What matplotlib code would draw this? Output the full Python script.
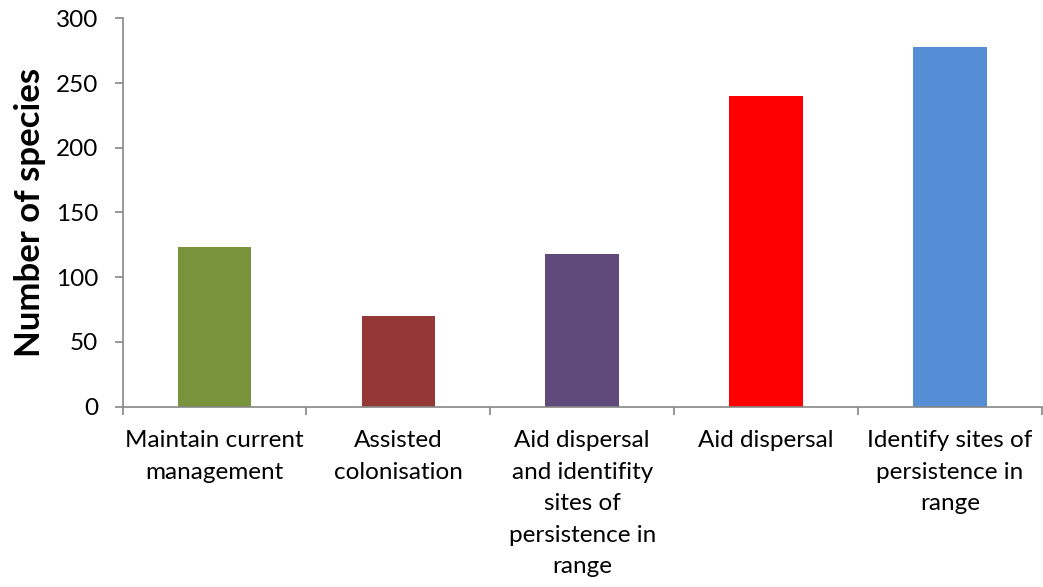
import matplotlib.pyplot as plt
import numpy as np

# Number of species per recommended conservation action
categories = ["Maintain current\nmanagement", "Assisted\ncolonisation",
              "Aid dispersal\nand identifity\nsites of\npersistence in\nrange",
              "Aid dispersal", "Identify sites of\npersistence in\nrange"]
species = [123, 70, 118, 240, 278]
bar_colors = ["#77933C", "#953735", "#604A7B", "#FF0000", "#558ED5"]
y_ticks = [0, 50, 100, 150, 200, 250, 300]

plt.rcParams['font.family'] = ['Lato', 'DejaVu Sans']

fig = plt.figure(figsize=(10.43, 5.87), dpi=100)
ax = fig.add_axes([0.1176, 0.3072, 0.8812, 0.6616])

x = np.arange(len(categories))
ax.bar(x, species, width=0.4, color=bar_colors, zorder=2)

ax.set_xlim(-0.5, len(categories) - 0.5)
ax.set_ylim(0, 300)
ax.set_yticks(y_ticks)
ax.tick_params(axis="y", labelsize=17.5, length=5.5, width=1.2, color="#868686", pad=12)

ax.set_xticks(x)
ax.set_xticklabels(categories, fontsize=17.5, linespacing=1.62, va="top")
ax.tick_params(axis="x", which="major", length=0, pad=17)
ax.set_xticks(np.arange(-0.5, len(categories)), minor=True)
ax.tick_params(axis="x", which="minor", length=6, width=1.2, color="#868686")

for side in ["top", "right"]:
    ax.spines[side].set_visible(False)
for side in ["left", "bottom"]:
    ax.spines[side].set_color("#868686")
    ax.spines[side].set_linewidth(1.2)

ax.set_ylabel("Number of species", fontsize=25, fontweight="bold", labelpad=7)

fig.savefig("out.png", dpi=100)
